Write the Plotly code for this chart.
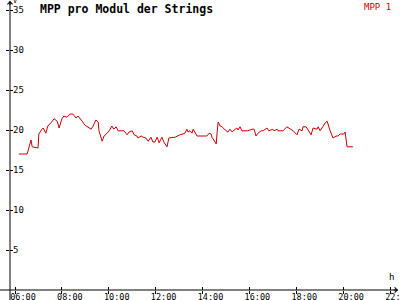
import plotly.graph_objects as go

day = "2024-06-01 "
times = ["06:10","06:31","06:41","06:44","06:59","07:01","07:09","07:12","07:19","07:24",
         "07:32","07:40","07:48","07:53","08:00","08:05","08:13","08:21","08:28","08:36",
         "08:41","08:44","08:52","08:59","09:07","09:15","09:20","09:27","09:33","09:35",
         "09:43","09:48","09:56","10:01","10:08","10:13","10:19","10:24","10:39","10:47",
         "10:52","11:00","11:05","11:12","11:15","11:23","11:28","11:35","11:41","11:48",
         "11:53","11:58","12:04","12:09","12:16","12:21","12:29","12:34","12:50","12:55",
         "13:02","13:10","13:15","13:20","13:23","13:28","13:33","13:36","13:41","13:46",
         "14:11","14:17","14:22","14:24","14:29","14:35","14:37","14:40","14:45","14:50",
         "14:58","15:05","15:10","15:16","15:21","15:28","15:31","15:36","15:41","15:56",
         "16:07","16:12","16:17","16:22","16:30","16:35","16:45","16:50","16:55","17:00",
         "17:03","17:11","17:13","17:26","17:36","17:41","17:52","18:02","18:04","18:07",
         "18:15","18:17","18:25","18:30","18:38","18:43","18:53","18:56","19:01","19:08",
         "19:14","19:19","19:21","19:26","19:32","19:34","19:42","19:47","19:52","20:02",
         "20:05","20:07","20:10","20:25"]
mpp1 = [17.0,17.0,18.75,17.9,17.75,19.5,20.1,20.25,19.6,20.5,
        20.9,21.4,21.1,20.25,21.4,21.75,21.6,22.0,22.0,21.5,
        21.75,21.6,21.1,20.6,20.4,20.1,20.5,21.25,21.0,19.9,
        18.6,19.25,19.6,19.9,20.5,20.1,20.4,19.9,19.9,19.4,
        19.75,19.9,19.4,19.25,19.0,19.25,19.1,19.0,18.6,19.1,
        18.5,18.5,19.1,18.4,19.1,18.5,17.9,19.0,19.1,19.25,
        19.4,19.5,19.6,20.1,19.75,19.9,19.6,20.1,19.75,19.25,
        19.25,19.6,19.5,19.1,18.75,18.25,19.5,21.0,20.5,20.4,
        20.0,19.75,20.1,19.75,20.0,20.25,20.0,20.4,19.9,19.9,
        20.1,20.1,19.25,19.6,19.9,19.9,20.25,19.9,20.0,20.1,
        19.9,20.1,19.9,19.9,20.4,20.25,19.9,19.4,19.75,20.1,
        19.9,20.4,20.4,20.0,19.4,20.25,20.1,20.4,19.9,20.4,
        20.9,21.1,20.75,20.0,19.25,19.0,19.25,19.25,19.5,19.5,
        19.75,19.0,17.9,17.9]
y_ticks = [5, 10, 15, 20, 25, 30, 35]
x_ticks = ["06:00","08:00","10:00","12:00","14:00","16:00","18:00","20:00","22:00"]

title_text = "MPP pro Modul der Strings"
series_name = "MPP 1"
red = "#cc0000"
mono = "DejaVu Sans Mono"

x = [day + t for t in times]

fig = go.Figure()
fig.add_trace(go.Scatter(x=x, y=mpp1, mode="lines", name=series_name,
                         line=dict(color=red, width=1), showlegend=False))

xrange = [day + "05:47:12", day + "22:20:24"]
yrange = [0, 36.25]

fig.update_layout(
    width=400, height=300,
    margin=dict(l=10, r=2, t=0, b=10, autoexpand=False),
    paper_bgcolor="white", plot_bgcolor="white",
    showlegend=False,
    xaxis=dict(range=xrange, type="date", automargin=False,
               tickvals=[day + t for t in x_ticks], ticktext=x_ticks,
               ticks="inside", ticklen=3, tickcolor="black", tickwidth=1,
               ticklabelshift=8, ticklabelstandoff=0, ticklabeloverflow="allow",
               tickfont=dict(family=mono, size=8.5, color="black"),
               showgrid=False, zeroline=False, showline=False),
    yaxis=dict(range=yrange, tickvals=y_ticks, automargin=False,
               ticks="outside", ticklen=3, tickcolor="black", tickwidth=1,
               ticklabelposition="inside", ticklabeloverflow="allow",
               tickfont=dict(family=mono, size=9, color="black"),
               showgrid=False, zeroline=False, showline=False),
    xaxis2=dict(range=xrange, type="date", overlaying="x", anchor="y", automargin=False,
                tickvals=[day + t for t in x_ticks], ticks="outside", ticklen=3,
                tickcolor="black", showticklabels=False, showgrid=False,
                zeroline=False, showline=False, side="bottom"),
    yaxis2=dict(range=yrange, overlaying="y", anchor="x", tickvals=y_ticks, automargin=False,
                ticks="inside", ticklen=3, tickcolor="black", showticklabels=False,
                showgrid=False, zeroline=False, showline=False, side="left"),
)

# invisible trace to activate secondary axes
fig.add_trace(go.Scatter(x=[x[0]], y=[mpp1[0]], xaxis="x2", yaxis="y2",
                         mode="markers", marker=dict(opacity=0), hoverinfo="skip",
                         showlegend=False))

# axis lines extending past the plot area
fig.add_shape(type="line", xref="paper", yref="paper", x0=-0.03, x1=1.0, y0=0, y1=0,
              line=dict(color="black", width=1))
fig.add_shape(type="line", xref="paper", yref="paper", x0=0, x1=0, y0=-0.04, y1=0.997,
              line=dict(color="black", width=1))
# arrow heads
fig.add_annotation(xref="paper", yref="paper", x=1.0, y=0, ax=-6, ay=0, text="",
                   showarrow=True, arrowhead=4, arrowsize=1, arrowwidth=1, arrowcolor="black")
fig.add_annotation(xref="paper", yref="paper", x=0, y=0.997, ax=0, ay=6, text="",
                   showarrow=True, arrowhead=4, arrowsize=1, arrowwidth=1, arrowcolor="black")

# axis unit labels
fig.add_annotation(xref="paper", yref="paper", x=0.003, y=1.017, text="V", showarrow=False,
                   xanchor="left", yanchor="top", font=dict(family=mono, size=7, color="black"))
fig.add_annotation(xref="paper", yref="paper", x=0.972, y=0.02, text="h", showarrow=False,
                   xanchor="left", yanchor="bottom", font=dict(family=mono, size=9, color="black"))

# title and legend
fig.add_annotation(xref="paper", yref="paper", x=0.073, y=1.0, text="<b>" + title_text + "</b>",
                   showarrow=False, xanchor="left", yanchor="top",
                   font=dict(family=mono, size=11.5, color="black"))
fig.add_annotation(xref="paper", yref="paper", x=0.988, y=1.0, text=series_name,
                   showarrow=False, xanchor="right", yanchor="top",
                   font=dict(family=mono, size=9, color=red))

fig.write_html("out.html")
